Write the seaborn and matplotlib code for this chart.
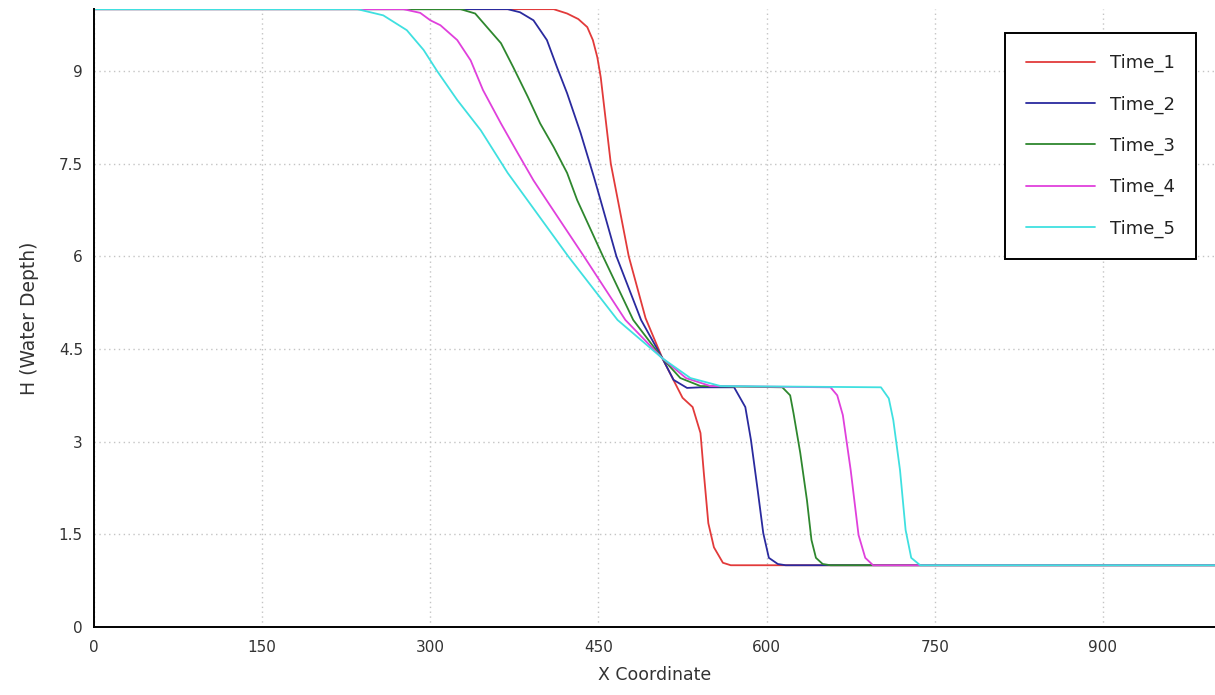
import pandas as pd
import numpy as np
import matplotlib.pyplot as plt
import seaborn as sns
from matplotlib.lines import Line2D
from matplotlib.ticker import MultipleLocator, FormatStrFormatter

# water depth profiles (x, H)
x_time1 = [0, 410, 422, 432, 440, 445, 449, 452, 461, 477, 492, 507, 525, 534, 541, 544, 548, 553, 561, 568, 1000]
h_time1 = [10.0, 10.0, 9.93, 9.84, 9.71, 9.5, 9.22, 8.9, 7.5, 6.0, 5.0, 4.35, 3.71, 3.56, 3.14, 2.49, 1.68, 1.29, 1.04, 1.0, 1.0]

x_time2 = [0, 369, 380, 392, 404, 413, 422, 434, 446, 452, 466, 488, 507, 517, 529, 541, 571, 581, 586, 592, 597, 602, 610, 617, 1000]
h_time2 = [10.0, 10.0, 9.95, 9.82, 9.5, 9.06, 8.64, 8.0, 7.28, 6.9, 6.0, 4.97, 4.35, 4.0, 3.87, 3.88, 3.88, 3.56, 3.03, 2.22, 1.52, 1.12, 1.02, 1.0, 1.0]

x_time3 = [0, 327, 340, 351, 363, 374, 387, 398, 410, 422, 431, 454, 481, 507, 523, 541, 614, 621, 624, 630, 636, 640, 644, 650, 657, 1000]
h_time3 = [10.0, 10.0, 9.93, 9.7, 9.45, 9.06, 8.58, 8.15, 7.77, 7.35, 6.91, 6.0, 4.97, 4.35, 4.03, 3.9, 3.88, 3.75, 3.46, 2.82, 2.05, 1.41, 1.12, 1.02, 1.0, 1.0]

x_time4 = [0, 276, 291, 300, 309, 324, 336, 347, 363, 378, 392, 404, 437, 474, 507, 528, 550, 657, 663, 668, 675, 682, 688, 695, 1000]
h_time4 = [10.0, 10.0, 9.94, 9.82, 9.74, 9.5, 9.17, 8.69, 8.15, 7.67, 7.23, 6.9, 6.0, 4.97, 4.35, 4.03, 3.9, 3.88, 3.75, 3.43, 2.54, 1.49, 1.12, 1.0, 1.0]

x_time5 = [0, 235, 258, 279, 294, 306, 324, 345, 369, 387, 423, 467, 507, 532, 559, 702, 709, 713, 719, 724, 729, 737, 1000]
h_time5 = [10.0, 10.0, 9.9, 9.66, 9.34, 9.0, 8.53, 8.04, 7.35, 6.9, 6.0, 4.97, 4.35, 4.03, 3.9, 3.88, 3.7, 3.35, 2.54, 1.57, 1.12, 1.0, 1.0]

series = ['Time_1', 'Time_2', 'Time_3', 'Time_4', 'Time_5']
colors = ['#e23a3a', '#2a2a9e', '#2e872e', '#e040dc', '#3fe0e0']

xs = [x_time1, x_time2, x_time3, x_time4, x_time5]
hs = [h_time1, h_time2, h_time3, h_time4, h_time5]
df = pd.concat([pd.DataFrame({'x': x, 'h': h, 'series': s}) for x, h, s in zip(xs, hs, series)],
               ignore_index=True)

sns.set_style('white')
plt.rcParams['font.family'] = ['DejaVu Sans']

fig = plt.figure(figsize=(12.15, 6.95), dpi=100)
ax = fig.add_axes([0.0774, 0.0978, 0.9226, 0.889])

sns.lineplot(data=df, x='x', y='h', hue='series', palette=dict(zip(series, colors)),
             estimator=None, sort=False, linewidth=1.3, legend=False, ax=ax)

ax.set_xlim(0, 1000)
ax.set_ylim(0, 10)
ax.xaxis.set_major_locator(MultipleLocator(150))
ax.xaxis.set_minor_locator(MultipleLocator(50))
ax.yaxis.set_major_locator(MultipleLocator(1.5))
ax.yaxis.set_minor_locator(MultipleLocator(0.5))
ax.xaxis.set_major_formatter(FormatStrFormatter('%g'))
ax.yaxis.set_major_formatter(FormatStrFormatter('%g'))

ax.tick_params(which='major', direction='in', length=7.5, width=1.1, labelsize=11,
               colors='black', labelcolor='#333333')
ax.tick_params(axis='x', which='major', pad=9)
ax.tick_params(axis='y', which='major', pad=8)
ax.tick_params(which='minor', direction='in', length=3.6, width=1.0)

ax.grid(True, which='major', linestyle=(0, (1, 2.5)), color='#c4c4c4', linewidth=1.0)

for side in ['top', 'right']:
    ax.spines[side].set_visible(False)
for side in ['left', 'bottom']:
    ax.spines[side].set_color('black')
    ax.spines[side].set_linewidth(1.4)

ax.set_xlabel('X Coordinate', fontsize=12.5, color='#333333', labelpad=8)
ax.set_ylabel('H (Water Depth)', fontsize=13.5, color='#333333', labelpad=14)

handles = [Line2D([], [], color=c, linewidth=1.3) for c in colors]
leg = ax.legend(handles, series, loc='upper right', bbox_to_anchor=(0.983, 0.961),
                borderaxespad=0, fontsize=13, handlelength=3.8, handletextpad=0.85,
                labelspacing=1.28, borderpad=1.15, frameon=True, fancybox=False)
leg.get_frame().set_edgecolor('black')
leg.get_frame().set_linewidth(1.4)
leg.get_frame().set_alpha(1)
for t in leg.get_texts():
    t.set_color('#222222')

fig.savefig('out.png', dpi=100)
